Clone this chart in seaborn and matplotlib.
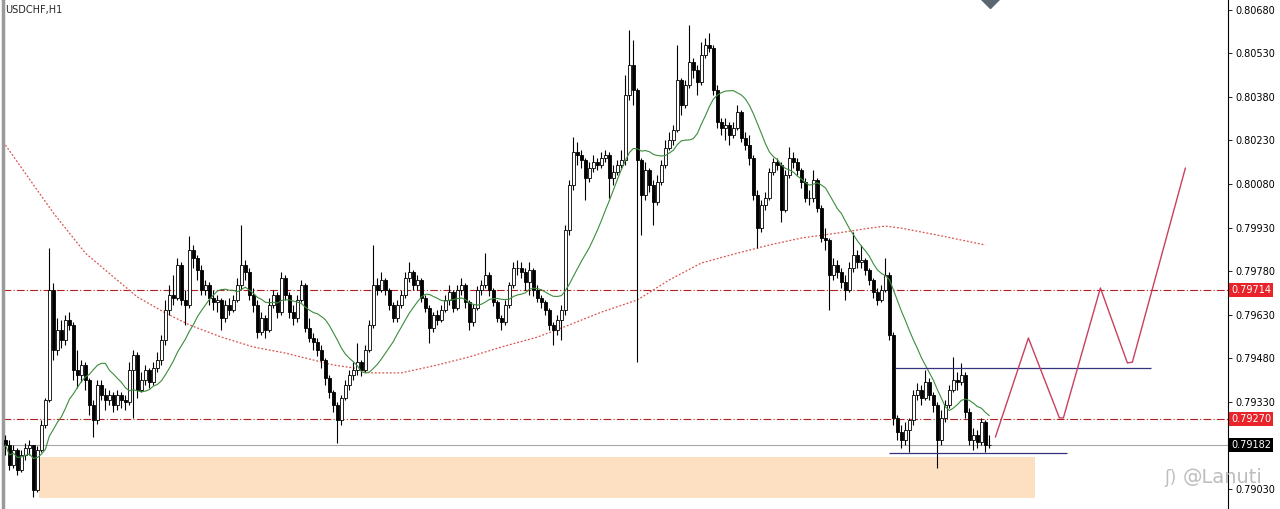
import numpy as np
import pandas as pd
import matplotlib
matplotlib.use('Agg')
import matplotlib.pyplot as plt
import matplotlib.transforms as mtrans
import seaborn as sns

# USDCHF H1 candles, prices given in points above 0.79000 (1 point = 0.00001)
# open of each bar = close of the bar before
first_open = 199
close_pts = [
    182, 113, 165, 96, 147, 172, 182, 27, 165, 251,
    337, 715, 508, 577, 543, 612, 595, 440, 423, 457,
    405, 319, 268, 388, 354, 337, 354, 319, 354, 337,
    330, 440, 491, 371, 405, 440, 399, 447, 474, 543,
    646, 698, 688, 801, 681, 664, 853, 825, 784, 715,
    732, 688, 674, 681, 619, 664, 646, 681, 732, 801,
    777, 698, 664, 571, 619, 577, 664, 698, 639, 756,
    698, 639, 619, 681, 732, 584, 550, 536, 508, 474,
    412, 364, 319, 268, 344, 388, 423, 440, 467, 440,
    508, 595, 732, 715, 750, 715, 664, 619, 664, 698,
    756, 777, 732, 750, 688, 653, 584, 629, 612, 646,
    681, 708, 653, 715, 732, 674, 605, 653, 715, 732,
    767, 715, 674, 619, 605, 664, 732, 791, 791, 777,
    743, 784, 715, 688, 674, 646, 595, 577, 612, 646,
    922, 1076, 1190, 1180, 1162, 1100, 1135, 1156, 1145, 1169,
    1180, 1100, 1121, 1145, 1162, 1386, 1489, 1403, 1162, 1042,
    1128, 1076, 1018, 1087, 1145, 1204, 1231, 1266, 1438, 1352,
    1420, 1500, 1472, 1431, 1524, 1558, 1548, 1403, 1293, 1273,
    1283, 1248, 1273, 1328, 1238, 1214, 1169, 1042, 928, 1008,
    1032, 1121, 1156, 1145, 990, 1111, 1169, 1156, 1128, 1087,
    1032, 1032, 1094, 997, 894, 887, 767, 801, 777, 743,
    715, 791, 836, 811, 818, 784, 750, 708, 681, 715,
    767, 560, 275, 226, 199, 233, 268, 354, 371, 344,
    399, 354, 319, 199, 275, 319, 371, 405, 399, 423,
    295, 199, 216, 192, 261, 182, 182,
]
high_pts = [
    216, 199, 182, 172, 165, 189, 199, 182, 178, 268,
    344, 860, 739, 619, 612, 629, 639, 605, 508, 474,
    467, 412, 337, 405, 405, 378, 371, 364, 371, 364,
    354, 467, 508, 502, 433, 457, 447, 467, 502, 560,
    681, 732, 767, 825, 811, 715, 901, 870, 836, 801,
    750, 743, 715, 698, 688, 681, 688, 698, 756, 939,
    818, 791, 722, 681, 639, 629, 688, 715, 708, 777,
    767, 708, 664, 698, 750, 739, 619, 567, 550, 526,
    481, 423, 371, 330, 354, 405, 440, 467, 533, 474,
    526, 612, 870, 756, 777, 756, 722, 674, 681, 715,
    777, 811, 784, 767, 756, 698, 664, 639, 646, 664,
    698, 732, 715, 732, 756, 739, 681, 667, 729, 750,
    842, 777, 722, 681, 629, 681, 743, 811, 818, 811,
    791, 811, 791, 732, 698, 681, 653, 605, 629, 664,
    939, 1094, 1242, 1224, 1197, 1169, 1156, 1180, 1169, 1190,
    1197, 1190, 1145, 1162, 1197, 1455, 1610, 1575, 1410, 1169,
    1156, 1135, 1094, 1111, 1162, 1231, 1259, 1283, 1558, 1445,
    1438, 1627, 1513, 1489, 1568, 1582, 1599, 1558, 1420, 1307,
    1307, 1293, 1293, 1352, 1334, 1259, 1248, 1180, 1059, 1025,
    1052, 1135, 1169, 1169, 1156, 1128, 1207, 1190, 1169, 1135,
    1100, 1059, 1128, 1100, 1008, 928, 894, 825, 818, 791,
    767, 811, 915, 853, 870, 825, 791, 756, 722, 732,
    825, 777, 571, 285, 251, 261, 275, 371, 395, 388,
    440, 412, 364, 330, 302, 337, 388, 485, 433, 464,
    433, 309, 240, 233, 275, 268, 216,
]
low_pts = [
    147, 96, 103, 79, 89, 130, 147, 3, 20, 158,
    240, 330, 474, 491, 516, 526, 577, 405, 378, 399,
    371, 285, 209, 254, 337, 302, 319, 295, 302, 309,
    302, 319, 275, 344, 364, 388, 378, 388, 433, 457,
    526, 629, 664, 681, 664, 595, 653, 791, 750, 698,
    698, 664, 646, 639, 577, 605, 629, 639, 674, 715,
    750, 681, 639, 550, 560, 550, 571, 653, 619, 629,
    681, 619, 595, 605, 674, 571, 536, 508, 488, 447,
    388, 344, 295, 189, 251, 337, 371, 405, 423, 419,
    433, 502, 584, 698, 708, 698, 646, 605, 605, 653,
    688, 743, 715, 715, 674, 639, 533, 571, 595, 605,
    639, 664, 639, 646, 698, 653, 577, 591, 646, 698,
    722, 694, 660, 605, 577, 595, 653, 722, 767, 756,
    715, 698, 694, 674, 653, 629, 577, 526, 560, 543,
    629, 904, 1059, 1145, 1135, 1025, 1087, 1121, 1128, 1135,
    1156, 1032, 1076, 1111, 1135, 1145, 1369, 1352, 467, 904,
    1025, 1052, 939, 1008, 1076, 1135, 1197, 1214, 1259, 1317,
    1341, 1410, 1445, 1386, 1420, 1513, 1534, 1386, 1273, 1248,
    1231, 1214, 1238, 1266, 1224, 1197, 1145, 1025, 860, 915,
    990, 1025, 1111, 1128, 949, 984, 1100, 1135, 1111, 1066,
    1018, 1008, 1018, 984, 880, 853, 646, 750, 756, 722,
    681, 708, 777, 791, 791, 767, 732, 688, 664, 674,
    708, 543, 251, 199, 172, 182, 158, 251, 337, 319,
    337, 337, 295, 103, 182, 261, 309, 364, 371, 388,
    275, 182, 165, 172, 182, 158, 172,
]

# slow MA (red dotted) at a few bars
slow_ma_bar = [0, 12, 20, 27, 33, 40, 46, 54, 62, 70, 82, 87, 91, 99, 108, 116,
               124, 133, 141, 149, 158, 166, 174, 183, 191, 199, 208, 216, 220,
               224, 233, 245]
slow_ma_pts = [1214, 980, 842, 760, 691, 636, 595, 553, 519, 498, 457, 447, 430,
               430, 457, 485, 519, 553, 595, 639, 681, 750, 808, 842, 870, 894,
               911, 928, 935, 928, 904, 870]

# drawn objects
level_red = [0.79714, 0.79270]
last_price = 0.79182
box_top, box_bottom, box_from, box_to = 0.79140, 0.78999, 8.5, 257.5
resist_price, resist_from, resist_to = 0.79447, 222.3, 286.3
support_price, support_from, support_to = 0.79154, 221.0, 265.5
zigzag_bar = [247.5, 255.75, 263.5, 264.5, 273.75, 280.5, 281.75, 295.0]
zigzag_pts = [209, 550, 275, 275, 722, 464, 467, 1135]
price_ticks = [0.79030 + 0.0015 * k for k in range(12)]

base = 0.79
close = base + np.array(close_pts) / 1e5
high = base + np.array(high_pts) / 1e5
low = base + np.array(low_pts) / 1e5
opn = np.concatenate([[base + first_open / 1e5], close[:-1]])
high = np.maximum.reduce([high, opn, close])
low = np.minimum.reduce([low, opn, close])
bars = np.arange(len(close))
up = close >= opn

fast_ma = pd.Series(close).rolling(15, min_periods=1).mean()

sns.set_style('white')
plt.rcParams['font.family'] = ['DejaVu Sans']

fig = plt.figure(figsize=(12.8, 5.09), dpi=100)
ax = fig.add_axes([3 / 1280, 0, 1225 / 1280, 1])

# demand zone
ax.fill_between([box_from, box_to], box_bottom, box_top, color='#fde0c2', lw=0, zorder=1)

# horizontal levels
for lv in level_red:
    ax.axhline(lv, color='#b22222', lw=0.8, ls=(0, (7, 2, 1, 2)), zorder=2)
ax.axhline(last_price, color='#a8a8a8', lw=0.8, zorder=2)

# slow MA
sns.lineplot(x=slow_ma_bar, y=base + np.array(slow_ma_pts) / 1e5, ax=ax,
             color='#d9534f', lw=0.9, linestyle=(0, (1.5, 1.5)), zorder=2)

# candles
ax.vlines(bars, low, high, color='black', lw=0.8, zorder=3)
ax.bar(bars[up], (close - opn)[up] + 1e-6, bottom=opn[up], width=0.62,
       color='white', edgecolor='black', lw=0.6, zorder=4)
ax.bar(bars[~up], (opn - close)[~up] + 1e-6, bottom=close[~up], width=0.62,
       color='black', edgecolor='black', lw=0.6, zorder=4)

# fast MA
sns.lineplot(x=bars, y=fast_ma.values, ax=ax, color='#3c8c3c', lw=0.8, zorder=5)

# range lines and projected path
ax.hlines(resist_price, resist_from, resist_to, color='#33337f', lw=0.9, zorder=5)
ax.hlines(support_price, support_from, support_to, color='#33337f', lw=0.9, zorder=5)
sns.lineplot(x=zigzag_bar, y=base + np.array(zigzag_pts) / 1e5, ax=ax, sort=False,
             color='#c8405e', lw=1.0, zorder=5)

# chart shift marker
ax.plot([246.25], [0.80722], marker='D', ms=11, color='#5b6670', zorder=6)

ax.set_xlim(-0.6, -0.6 + 1225 / 4)
ax.set_ylim(0.789615, 0.80713)
ax.set_xticks([])
ax.yaxis.tick_right()
ax.set_yticks(price_ticks)
# the 0.79180 label sits under the last-price tag
ax.set_yticklabels(['' if abs(p - 0.7918) < 1e-6 else '%.5f' % p for p in price_ticks])
ax.tick_params(axis='y', direction='out', length=3, width=0.6, pad=2,
               labelsize=7, colors='black')
for s in ['top', 'bottom']:
    ax.spines[s].set_visible(False)
ax.spines['right'].set_color('black')
ax.spines['right'].set_linewidth(0.8)
ax.spines['left'].set_color('#9a9a9a')
ax.spines['left'].set_linewidth(2.5)
ax.set_xlabel('')
ax.set_ylabel('')

# price tags on the axis
tr = mtrans.blended_transform_factory(ax.transAxes, ax.transData)
for lv in level_red:
    ax.text(1.0025, lv, '%.5f' % lv, transform=tr, ha='left', va='center', fontsize=7,
            color='white', bbox=dict(boxstyle='square,pad=0.22', fc='#e8242a', ec='none'),
            zorder=7, clip_on=False)
ax.text(1.0025, last_price, '%.5f' % last_price, transform=tr, ha='left', va='center',
        fontsize=7, color='white',
        bbox=dict(boxstyle='square,pad=0.22', fc='black', ec='none'),
        zorder=7, clip_on=False)

fig.text(5 / 1280, 1 - 10 / 509, 'USDCHF,H1', fontsize=7, va='center', ha='left')
fig.text(1164 / 1280, 1 - 478 / 509, 'ʃ)', fontsize=12, color='#bdbdbd', va='center')
fig.text(1183 / 1280, 1 - 478 / 509, '@Lanuti', fontsize=14, color='#bdbdbd', va='center')

plt.savefig('out.png', dpi=100)
